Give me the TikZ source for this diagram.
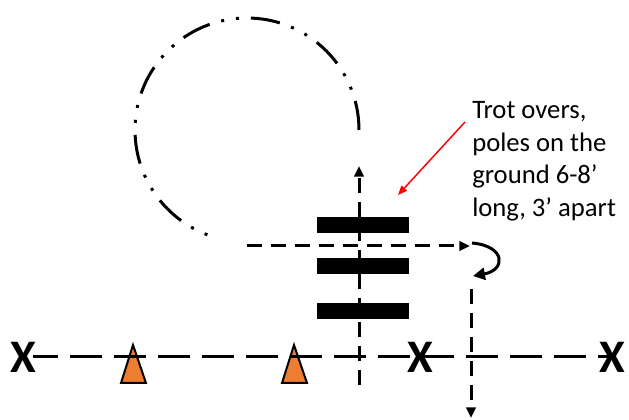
\documentclass[tikz,border=0pt]{standalone}
\usepackage{fontspec}
\setmainfont{Carlito}
\usepackage{xcolor}
\usetikzlibrary{arrows.meta}

\definecolor{coneorange}{RGB}{237,125,49}

\tikzset{
  pole/.style={fill=black, minimum width=69pt, minimum height=12pt, inner sep=0pt},
  xmark/.style={font=\bfseries\fontsize{35}{35}\selectfont, inner sep=0pt},
  cone/.style={draw=black, fill=coneorange, line width=1.5pt, line join=miter},
  trotpath/.style={line width=2.25pt, dash pattern=on 11pt off 7pt},
  railline/.style={line width=2.25pt, dash pattern=on 24pt off 9pt, dash phase=5.25pt},
  circleroute/.style={line width=2.25pt, dash pattern=on 22pt off 9pt on 2.25pt off 9pt on 2.25pt off 9pt},
  tip/.style={-{Triangle[length=8pt,width=7pt]}},
}

\begin{document}
\begin{tikzpicture}[x=0.75pt,y=0.75pt,yscale=-1,xscale=1]
\useasboundingbox (0,0) rectangle (629,420);

%Cones
\draw[cone] (121,383) -- (133,345) -- (146,383) -- cycle ;
\draw[cone] (282,383) -- (294,345) -- (307,383) -- cycle ;

% X marks
\node[xmark] (xl) at (23,357) {X};
\node[xmark] (xm) at (420,357) {X};
\node[xmark] (xr) at (612,357) {X};

%Rail line
\draw[railline] (33,357) -- (xr.center) ;

% Poles
\node[pole] (pole1) at (363,225) {};
\node[pole] (pole2) at (363,266) {};
\node[pole] (pole3) at (363,311) {};

%Circle
\coordinate (loopstart) at (359,130);
\draw[circleroute] (loopstart) arc[start angle=0, end angle=-255, radius=112] ;

%Route lines
\coordinate (runin) at (247,246);
\coordinate (runout) at (470,246);
\draw[trotpath, tip] (runin) -- (runout) ;
\coordinate (upbot) at (359,385);
\coordinate (uptop) at (359,166);
\draw[trotpath, tip] (upbot) -- (uptop) ;
\coordinate (downtop) at (471,289);
\coordinate (downbot) at (471,418);
\draw[trotpath, tip] (downtop) -- (downbot) ;

%Curve Lines
\coordinate (turnin) at (472,243);
\coordinate (turnout) at (473,276);
\draw[line width=2.25pt, -{Triangle[length=9pt,width=9pt]}] (turnin) .. controls (506,246) and (506,270) .. (turnout) ;

% Text Node
\node[anchor=north west, inner sep=0pt, align=left, font=\fontsize{20}{24.5}\selectfont] (note) at (472,101) {Trot overs,\\poles on the\\ground 6-8’\\long, 3’ apart};
\coordinate (notetail) at (465,122);
\coordinate (notetip) at (398,195);
\draw[red, line width=1.1pt, -{Triangle[length=7pt,width=5.5pt]}] (notetail) -- (notetip) ;

\end{tikzpicture}
\end{document}
